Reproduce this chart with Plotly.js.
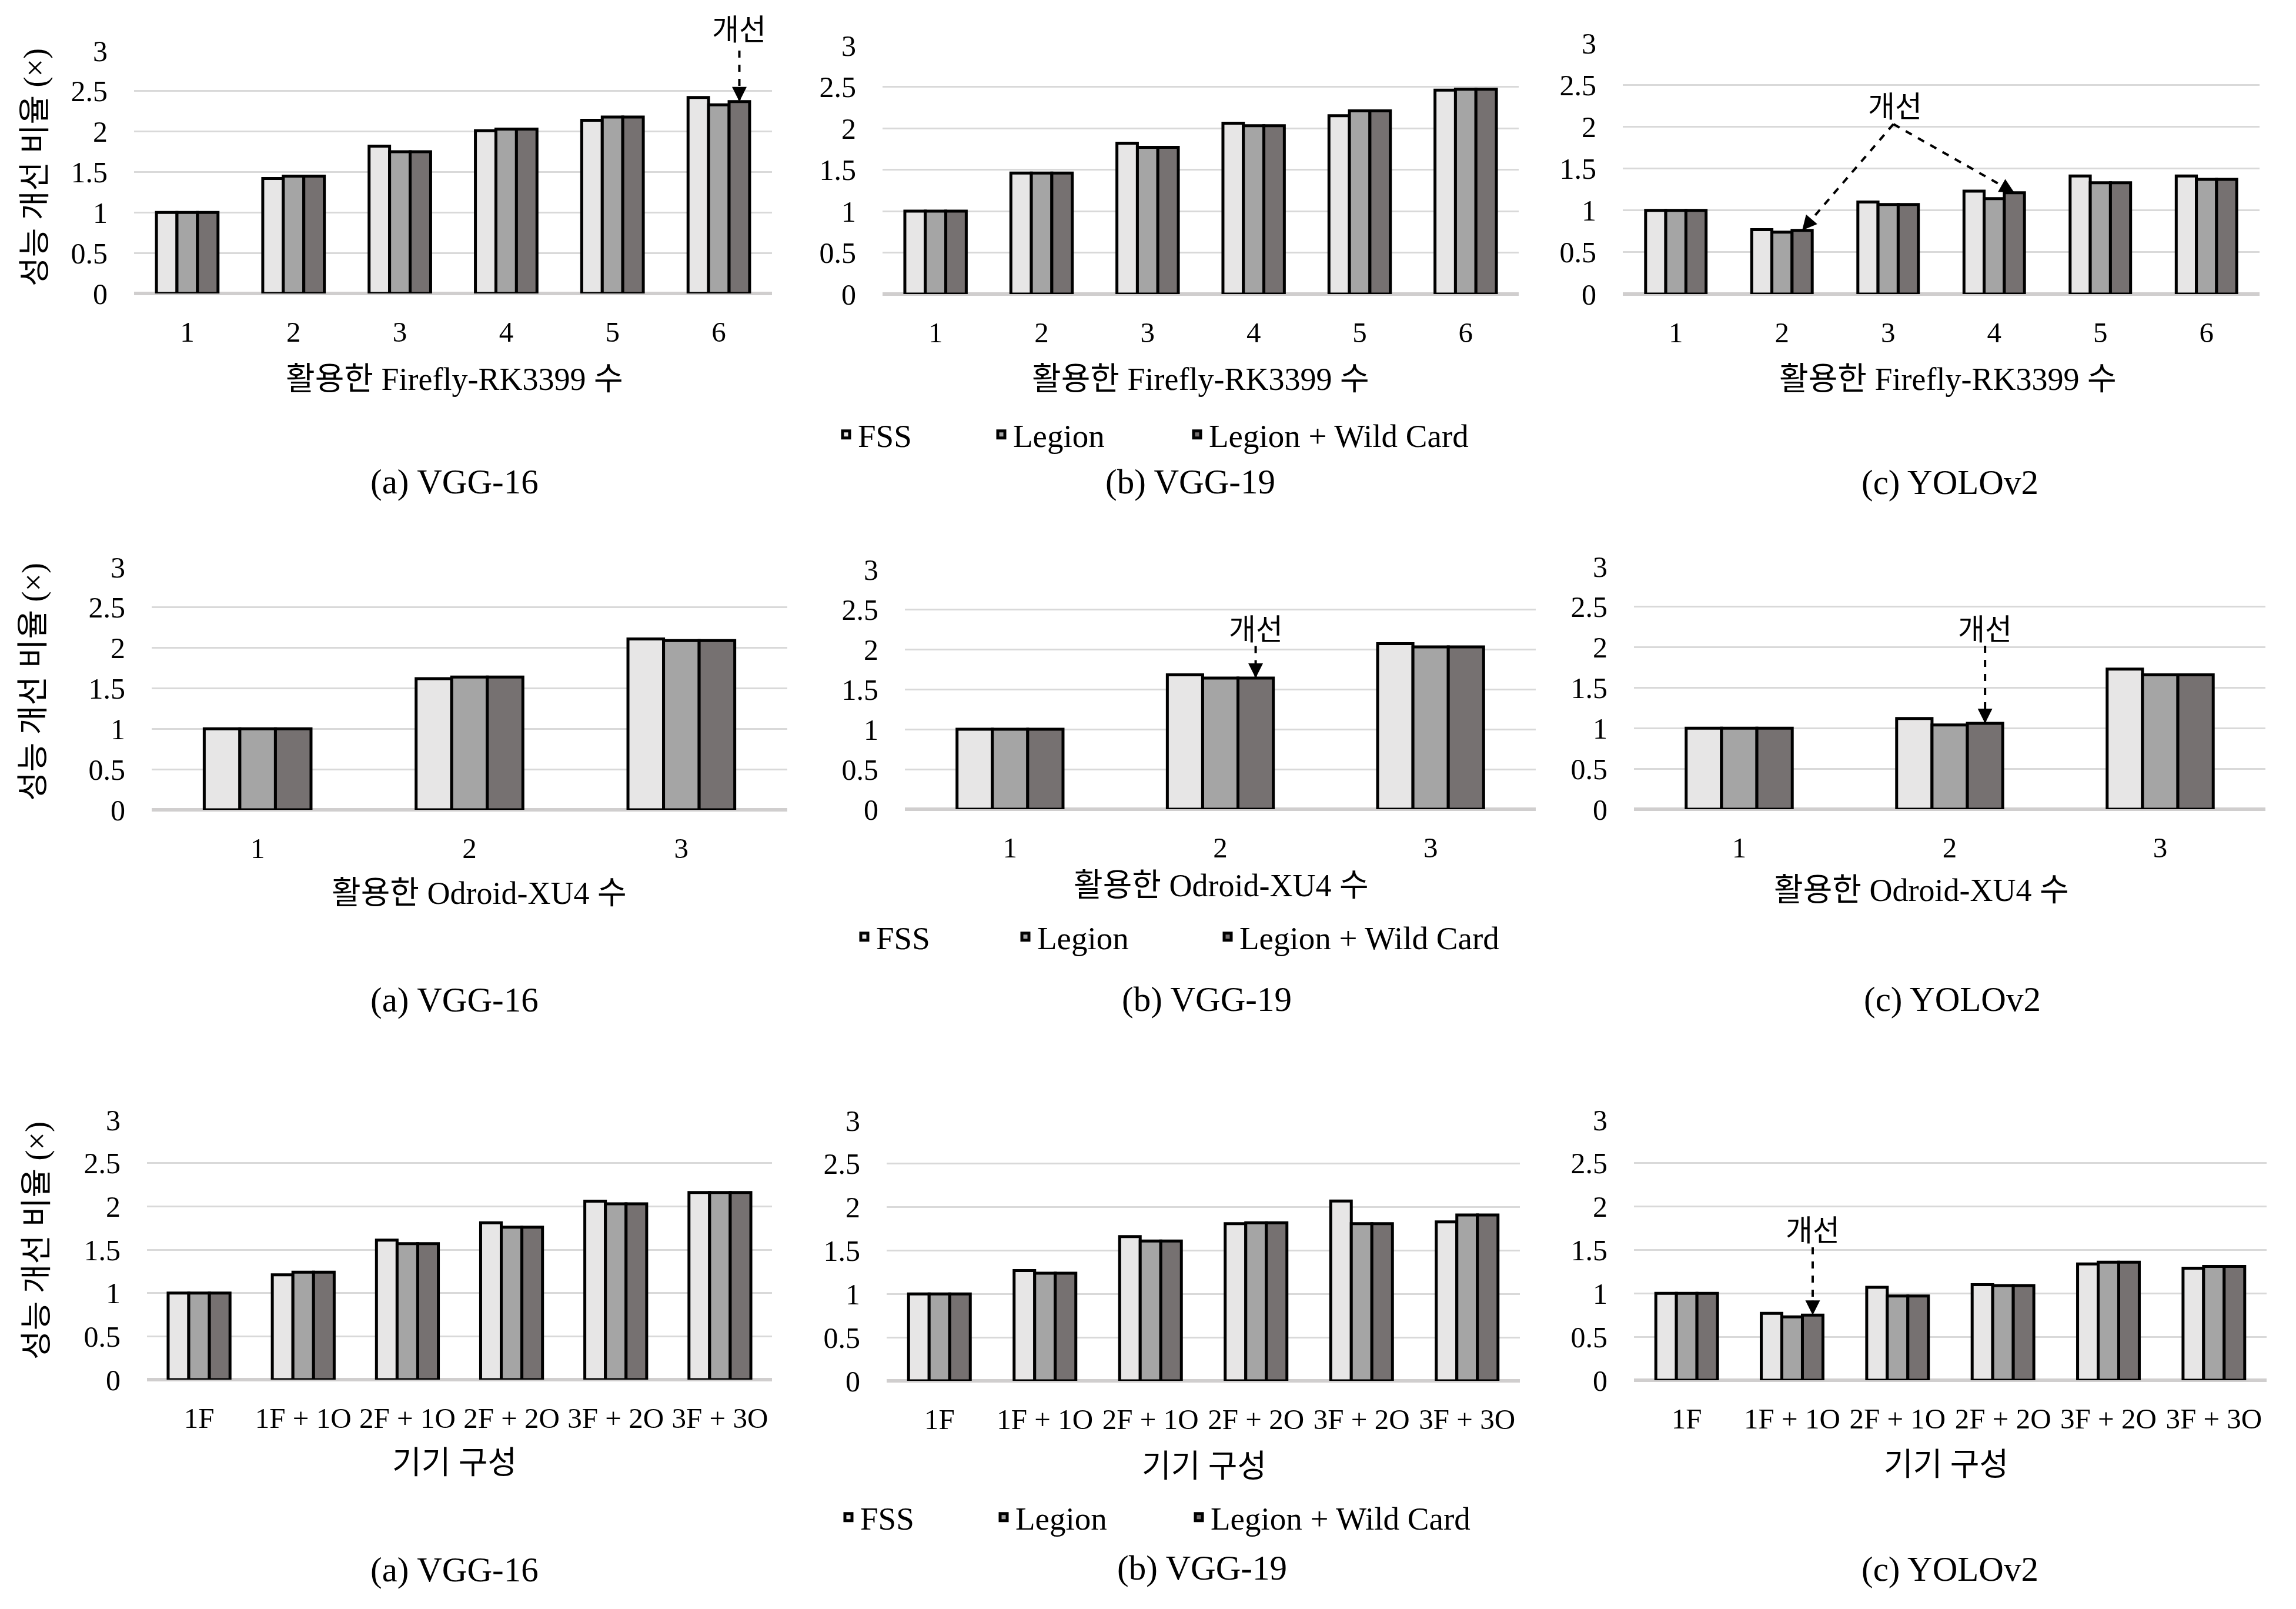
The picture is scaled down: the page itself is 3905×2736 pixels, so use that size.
<!DOCTYPE html>
<html>
<head>
<meta charset="utf-8">
<script src="https://cdn.plot.ly/plotly-3.0.1.min.js"></script>
<style>html,body{margin:0;padding:0;background:#fff;}</style>
</head>
<body>
<div id="chart" style="width:3905px;height:2736px;"></div>
<script>
// ---------------- DATA ----------------
const seriesNames = ['FSS', 'Legion', 'Legion + Wild Card'];
const fireflyCounts = ['1', '2', '3', '4', '5', '6'];
const odroidCounts = ['1', '2', '3'];
const deviceConfigs = ['1F', '1F + 1O', '2F + 1O', '2F + 2O', '3F + 2O', '3F + 3O'];
const modelCaptions = ['(a) VGG-16', '(b) VGG-19', '(c) YOLOv2'];
const xTitles = ['활용한 Firefly-RK3399 수', '활용한 Odroid-XU4 수', '기기 구성'];
const yTitle = '성능 개선 비율 (×)';
const improveLabel = '개선';

// Row 1: number of Firefly-RK3399 devices
const fireflyVgg16Fss    = [1.00, 1.42, 1.82, 2.01, 2.14, 2.42];
const fireflyVgg16Legion = [1.00, 1.45, 1.75, 2.03, 2.18, 2.33];
const fireflyVgg16Wild   = [1.00, 1.45, 1.75, 2.03, 2.18, 2.37];
const fireflyVgg19Fss    = [1.00, 1.46, 1.82, 2.06, 2.15, 2.46];
const fireflyVgg19Legion = [1.00, 1.46, 1.77, 2.03, 2.21, 2.47];
const fireflyVgg19Wild   = [1.00, 1.46, 1.77, 2.03, 2.21, 2.47];
const fireflyYoloFss     = [1.00, 0.77, 1.10, 1.23, 1.41, 1.41];
const fireflyYoloLegion  = [1.00, 0.74, 1.07, 1.14, 1.33, 1.37];
const fireflyYoloWild    = [1.00, 0.76, 1.07, 1.21, 1.33, 1.37];

// Row 2: number of Odroid-XU4 devices
const odroidVgg16Fss     = [1.00, 1.62, 2.11];
const odroidVgg16Legion  = [1.00, 1.64, 2.09];
const odroidVgg16Wild    = [1.00, 1.64, 2.09];
const odroidVgg19Fss     = [1.00, 1.68, 2.07];
const odroidVgg19Legion  = [1.00, 1.64, 2.03];
const odroidVgg19Wild    = [1.00, 1.64, 2.03];
const odroidYoloFss      = [1.00, 1.12, 1.73];
const odroidYoloLegion   = [1.00, 1.04, 1.66];
const odroidYoloWild     = [1.00, 1.06, 1.66];

// Row 3: device configuration
const configVgg16Fss     = [1.00, 1.21, 1.61, 1.81, 2.06, 2.16];
const configVgg16Legion  = [1.00, 1.24, 1.57, 1.76, 2.03, 2.16];
const configVgg16Wild    = [1.00, 1.24, 1.57, 1.76, 2.03, 2.16];
const configVgg19Fss     = [1.00, 1.27, 1.66, 1.81, 2.07, 1.83];
const configVgg19Legion  = [1.00, 1.24, 1.61, 1.82, 1.81, 1.91];
const configVgg19Wild    = [1.00, 1.24, 1.61, 1.82, 1.81, 1.91];
const configYoloFss      = [1.00, 0.77, 1.07, 1.10, 1.34, 1.29];
const configYoloLegion   = [1.00, 0.73, 0.97, 1.09, 1.36, 1.31];
const configYoloWild     = [1.00, 0.75, 0.97, 1.09, 1.36, 1.31];

// ---------------- STYLE / LAYOUT ----------------
const W = 3905, H = 2736;
const FONT = 'Liberation Serif, "Noto Sans CJK KR", serif';
const seriesColors = ['#e7e6e6', '#a5a5a5', '#767171'];
const fx = px => px / W;
const fy = py => 1 - py / H;

// plot-area boxes [left, right, top, bottom] in px, and bar width per series
const panels = [
  {row: 0, col: 0, cats: fireflyCounts, vals: [fireflyVgg16Fss, fireflyVgg16Legion, fireflyVgg16Wild], box: [228, 1313, 86, 499], w: 0.193},
  {row: 0, col: 1, cats: fireflyCounts, vals: [fireflyVgg19Fss, fireflyVgg19Legion, fireflyVgg19Wild], box: [1501, 2583, 77, 500], w: 0.193},
  {row: 0, col: 2, cats: fireflyCounts, vals: [fireflyYoloFss, fireflyYoloLegion, fireflyYoloWild], box: [2760, 3843, 73, 500], w: 0.19},
  {row: 1, col: 0, cats: odroidCounts, vals: [odroidVgg16Fss, odroidVgg16Legion, odroidVgg16Wild], box: [258, 1339, 964, 1377], w: 0.168},
  {row: 1, col: 1, cats: odroidCounts, vals: [odroidVgg19Fss, odroidVgg19Legion, odroidVgg19Wild], box: [1539, 2612, 968, 1376], w: 0.168},
  {row: 1, col: 2, cats: odroidCounts, vals: [odroidYoloFss, odroidYoloLegion, odroidYoloWild], box: [2779, 3853, 963, 1376], w: 0.168},
  {row: 2, col: 0, cats: deviceConfigs, vals: [configVgg16Fss, configVgg16Legion, configVgg16Wild], box: [250, 1313, 1904, 2346], w: 0.198},
  {row: 2, col: 1, cats: deviceConfigs, vals: [configVgg19Fss, configVgg19Legion, configVgg19Wild], box: [1508, 2585, 1905, 2348], w: 0.195},
  {row: 2, col: 2, cats: deviceConfigs, vals: [configYoloFss, configYoloLegion, configYoloWild], box: [2779, 3855, 1904, 2347], w: 0.195}
];

const xTitlePos = [[[773, 645], [2042, 645], [3313, 645]],
                   [[815, 1519], [2077, 1506], [3268, 1514]],
                   [[773, 2488], [2048, 2494], [3310, 2491]]];
const captionPos = [[[773, 819], [2024, 819], [3316, 820]],
                    [[773, 1700], [2052, 1699], [3320, 1699]],
                    [[773, 2669], [2044, 2666], [3316, 2668]]];
const yTitlePos = [[60, 285], [57, 1160], [63, 2110]];
const legendTextX = [[1459, 1723, 2056], [1490, 1764, 2108], [1463, 1727, 2059]];
const legendY = [739, 1593, 2580];

// "개선" callouts: panel index, label position, dashed-line start, pointed categories (Legion + Wild Card bars)
const callouts = [
  {panel: 0, labelPy: 51, startY: 3.0, tips: [5]},
  {panel: 2, label: [2.065, 2.235], start: [2.05, 2.03], tips: [1, 3]},
  {panel: 4, labelY: 2.24, startY: 2.04, tips: [1]},
  {panel: 5, labelY: 2.215, startY: 2.02, tips: [1]},
  {panel: 8, labelY: 1.72, startY: 1.53, tips: [1]}
];

const traces = [];
const layout = {
  width: W, height: H,
  margin: {l: 0, r: 0, t: 0, b: 0},
  paper_bgcolor: '#ffffff',
  plot_bgcolor: 'rgba(0,0,0,0)',
  barmode: 'overlay',
  font: {family: FONT, size: 49, color: '#000000'},
  annotations: [],
  shapes: []
};

panels.forEach((p, i) => {
  const n = i + 1;
  const xa = n === 1 ? 'x' : 'x' + n;
  const ya = n === 1 ? 'y' : 'y' + n;
  const [L, R, T, B] = p.box;
  layout[n === 1 ? 'xaxis' : 'xaxis' + n] = {
    domain: [fx(L), fx(R)], anchor: ya, type: 'category',
    range: [-0.5, p.cats.length - 0.5],
    showgrid: false, zeroline: false, showline: false, ticks: '',
    tickfont: {family: FONT, size: 49, color: '#000'},
    ticklabelstandoff: 32, fixedrange: true
  };
  layout[n === 1 ? 'yaxis' : 'yaxis' + n] = {
    domain: [fy(B), fy(T)], anchor: xa,
    range: [0, 3], tick0: 0, dtick: 0.5,
    showgrid: true, gridcolor: '#d9d9d9', gridwidth: 3,
    zeroline: true, zerolinecolor: '#d0cece', zerolinewidth: 6,
    showline: false, ticks: '',
    tickfont: {family: FONT, size: 50, color: '#000'},
    ticklabelstandoff: 44, fixedrange: true
  };
  p.vals.forEach((vals, s) => {
    const k = p.row * 3 + s;
    const legendId = k === 0 ? 'legend' : 'legend' + (k + 1);
    traces.push({
      type: 'bar', name: seriesNames[s], x: p.cats, y: vals,
      xaxis: xa, yaxis: ya,
      width: p.w, offset: (s - 1.5) * p.w,
      marker: {color: seriesColors[s], line: {color: '#000000', width: 5}},
      showlegend: p.col === 1, legend: legendId,
      hoverinfo: 'x+y+name'
    });
  });

  // x-axis title and caption
  const xt = xTitlePos[p.row][p.col];
  layout.annotations.push({xref: 'paper', yref: 'paper', x: fx(xt[0]), y: fy(xt[1]),
    xanchor: 'center', yanchor: 'middle', showarrow: false, text: xTitles[p.row],
    font: {family: FONT, size: 54, color: '#000'}});
  const cp = captionPos[p.row][p.col];
  layout.annotations.push({xref: 'paper', yref: 'paper', x: fx(cp[0]), y: fy(cp[1]),
    xanchor: 'center', yanchor: 'middle', showarrow: false, text: modelCaptions[p.col],
    font: {family: FONT, size: 59, color: '#000'}});
  if (p.col === 0) {
    const yt = yTitlePos[p.row];
    layout.annotations.push({xref: 'paper', yref: 'paper', x: fx(yt[0]), y: fy(yt[1]),
      xanchor: 'center', yanchor: 'middle', showarrow: false, text: yTitle, textangle: -90,
      font: {family: FONT, size: 54, color: '#000'}});
  }
});

// legends (one per row and series, placed as in the original)
for (let r = 0; r < 3; r++) {
  for (let s = 0; s < 3; s++) {
    const k = r * 3 + s;
    const key = k === 0 ? 'legend' : 'legend' + (k + 1);
    layout[key] = {
      x: fx(legendTextX[r][s] - 40), y: fy(legendY[r]),
      xanchor: 'left', yanchor: 'middle', orientation: 'h',
      bgcolor: 'rgba(0,0,0,0)', borderwidth: 0,
      font: {family: FONT, size: 55, color: '#000'}
    };
  }
}

// callouts
callouts.forEach(c => {
  const p = panels[c.panel];
  const n = c.panel + 1;
  const xa = n === 1 ? 'x' : 'x' + n;
  const ya = n === 1 ? 'y' : 'y' + n;
  const [L, R, T, B] = p.box;
  const pxX = (R - L) / p.cats.length;
  const pxY = (B - T) / 3;
  const wild = p.vals[2];
  const tips = c.tips.map(ci => [ci + p.w, wild[ci]]);
  const start = c.start ? c.start : [tips[0][0], c.startY];
  const labelFont = {family: FONT, size: 50, color: '#000'};
  if (c.labelPy !== undefined) {
    layout.annotations.push({xref: xa, yref: 'paper', x: tips[0][0], y: fy(c.labelPy), showarrow: false,
      text: improveLabel, xanchor: 'center', yanchor: 'middle', font: labelFont});
  } else {
    const label = c.label ? c.label : [tips[0][0], c.labelY];
    layout.annotations.push({xref: xa, yref: ya, x: label[0], y: label[1], showarrow: false,
      text: improveLabel, xanchor: 'center', yanchor: 'middle', font: labelFont});
  }
  tips.forEach(t => {
    layout.shapes.push({type: 'line', xref: xa, yref: ya,
      x0: start[0], y0: start[1], x1: t[0], y1: t[1],
      line: {color: '#000000', width: 4, dash: 'dash'}});
    const dx = (t[0] - start[0]) * pxX;
    const dy = -(t[1] - start[1]) * pxY;
    const len = Math.sqrt(dx * dx + dy * dy);
    const hl = 26;
    layout.annotations.push({xref: xa, yref: ya, x: t[0], y: t[1], text: '',
      showarrow: true, arrowhead: 2, arrowsize: 1.25, arrowwidth: 4, arrowcolor: '#000',
      standoff: 0, ax: -dx / len * hl, ay: -dy / len * hl});
  });
});

Plotly.newPlot('chart', traces, layout, {displayModeBar: false, staticPlot: true});
</script>
</body>
</html>
